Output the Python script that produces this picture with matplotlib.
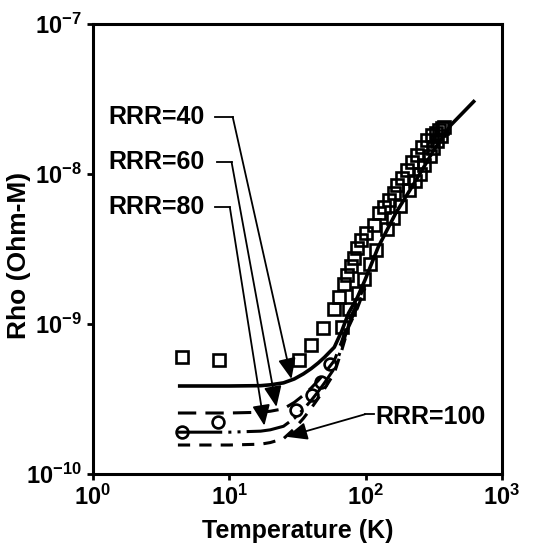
import numpy as np
import matplotlib
matplotlib.use('Agg')
import matplotlib.pyplot as plt

plt.rcParams['font.family'] = ['Liberation Sans', 'DejaVu Sans']
plt.rcParams['font.weight'] = 'bold'
plt.rcParams['mathtext.fontset'] = 'custom'
plt.rcParams['mathtext.rm'] = 'Liberation Sans:bold'
plt.rcParams['mathtext.it'] = 'Liberation Sans:bold'
plt.rcParams['mathtext.bf'] = 'Liberation Sans:bold'

# fitted curves, temperature (K) vs resistivity (Ohm-m)
t_40 = [4.2, 10, 17, 20, 25, 30, 35, 40, 45, 50, 59, 67, 75, 87, 99, 124,
        167, 240, 318, 423, 635]
rho_40 = [3.86e-10, 3.86e-10, 3.88e-10, 3.93e-10, 4.05e-10, 4.3e-10,
          4.65e-10, 5.05e-10, 5.5e-10, 6.0e-10, 7.0e-10, 9.0e-10, 1.18e-9,
          1.5e-9, 1.96e-9, 3.26e-9, 5.5e-9, 9.4e-9, 1.45e-8, 2.12e-8, 3.1e-8]

t_low = [4.2, 10, 17, 20, 25, 30, 35, 40, 45, 50, 59, 67, 75, 87, 99]
rho_60 = [2.55e-10, 2.55e-10, 2.58e-10, 2.62e-10, 2.72e-10, 3.0e-10,
          3.35e-10, 3.75e-10, 4.2e-10, 4.7e-10, 5.7e-10, 7.7e-10, 1.05e-9,
          1.37e-9, 1.83e-9]
rho_80 = [1.9e-10, 1.9e-10, 1.93e-10, 1.97e-10, 2.08e-10, 2.35e-10,
          2.7e-10, 3.1e-10, 3.55e-10, 4.05e-10, 5.05e-10, 7.0e-10, 9.8e-10,
          1.3e-9, 1.76e-9]
rho_100 = [1.56e-10, 1.56e-10, 1.58e-10, 1.62e-10, 1.72e-10, 2.0e-10,
           2.35e-10, 2.75e-10, 3.2e-10, 3.7e-10, 4.7e-10, 6.7e-10, 9.5e-10,
           1.27e-9, 1.73e-9]

# measured points
sq_t = [4.48, 8.35, 32.7, 40.0, 49.0, 58.9, 64.1, 69.7, 73.3, 78.5, 82.5,
        86.8, 92.9, 101, 116, 126, 137, 149, 162, 170, 185, 201, 219, 238,
        259, 282, 307, 328, 345, 363, 376,
        67, 76, 88, 97, 108, 120, 143, 158, 178, 210, 230, 250, 270, 295,
        315, 335, 355]
sq_rho = [6.0e-10, 5.75e-10, 5.75e-10, 7.24e-10, 9.4e-10, 1.26e-9, 1.51e-9,
          1.85e-9, 2.12e-9, 2.44e-9, 2.75e-9, 3.21e-9, 3.63e-9, 4.04e-9,
          4.57e-9, 5.5e-9, 6.03e-9, 6.7e-9, 7.47e-9, 8.45e-9, 9.4e-9,
          1.06e-8, 1.2e-8, 1.34e-8, 1.51e-8, 1.69e-8, 1.82e-8, 1.87e-8,
          1.96e-8, 2.03e-8, 2.06e-8,
          9.5e-10, 1.25e-9, 1.6e-9, 2.0e-9, 2.5e-9, 3.1e-9, 4.3e-9, 5.1e-9,
          6.1e-9, 7.8e-9, 9.0e-9, 1.0e-8, 1.15e-8, 1.32e-8, 1.5e-8, 1.65e-8,
          1.8e-8]
circ_t = [4.48, 8.21, 31.1, 40.7, 47.3, 55]
circ_rho = [1.9e-10, 2.22e-10, 2.67e-10, 3.36e-10, 4.1e-10, 5.4e-10]

x_ticks = [1, 10, 100, 1000]
x_labels = [r'$10^{0}$', r'$10^{1}$', r'$10^{2}$', r'$10^{3}$']
y_ticks = [1e-10, 1e-9, 1e-8, 1e-7]
y_labels = [r'$10^{-10}$', r'$10^{-9}$', r'$10^{-8}$', r'$10^{-7}$']

fig = plt.figure(figsize=(5.39, 5.45), dpi=100)
ax = fig.add_axes([0.1725, 0.1303, 0.7585, 0.8257])
ax.set_xscale('log')
ax.set_yscale('log')

lw = 2.2
ax.plot(t_40, rho_40, color='black', lw=2.6, solid_capstyle='butt')
ax.plot(t_low, rho_60, color='black', lw=lw, linestyle=(0, (6, 3)))
ax.plot(t_low, rho_80, color='black', lw=lw,
        linestyle=(0, (14.5, 2, 1, 2, 1, 2)))
ax.plot(t_low, rho_100, color='black', lw=lw, linestyle=(0, (4, 3)))

ax.plot(sq_t, sq_rho, linestyle='none', marker='s', ms=8.5,
        mfc='none', mec='black', mew=1.9)
ax.plot(circ_t, circ_rho, linestyle='none', marker='o', ms=8.5,
        mfc='none', mec='black', mew=1.9)

arrow = dict(arrowstyle='-|>,head_length=0.7,head_width=0.3',
             color='black', lw=1.3, mutation_scale=18, shrinkA=0, shrinkB=0)

# RRR labels with leader lines
labels = [('RRR=40', 2.4e-8, 7.8, 10.6, 28.6, 4.3e-10),
          ('RRR=60', 1.2e-8, 8.1, 10.4, 22.2, 2.8e-10),
          ('RRR=80', 6.0e-9, 7.8, 10.1, 18.1, 2.1e-10)]
for txt, yy, x0, x1, tx, ty in labels:
    ax.text(1.29, yy, txt, fontsize=18, fontweight='bold', va='center',
            ha='left', family='Liberation Sans')
    ax.plot([x0, x1], [yy, yy], color='black', lw=1.3)
    ax.annotate('', xy=(tx, ty), xytext=(x1, yy), arrowprops=arrow)

ax.text(118, 2.4e-10, 'RRR=100', fontsize=18, fontweight='bold',
        va='center', ha='left', family='Liberation Sans')
ax.plot([116, 99], [2.5e-10, 2.5e-10], color='black', lw=1.3)
ax.annotate('', xy=(26.3, 1.77e-10), xytext=(99, 2.5e-10), arrowprops=arrow)

ax.set_xlim(1, 1000)
ax.set_ylim(1e-10, 1e-7)
ax.set_xticks(x_ticks)
ax.set_xticklabels(x_labels)
ax.set_yticks(y_ticks)
ax.set_yticklabels(y_labels)
ax.minorticks_off()
ax.tick_params(direction='out', length=4, width=2, labelsize=17, pad=4)
for s in ax.spines.values():
    s.set_linewidth(2.2)

ax.set_xlabel('Temperature (K)', fontsize=18, fontweight='bold',
              family='Liberation Sans')
ax.xaxis.set_label_coords(0.5, -0.1)
ax.set_ylabel('Rho (Ohm-M)', fontsize=19, fontweight='bold',
              family='Liberation Sans')
ax.yaxis.set_label_coords(-0.152, 0.485)

fig.savefig('out.png', dpi=100)
